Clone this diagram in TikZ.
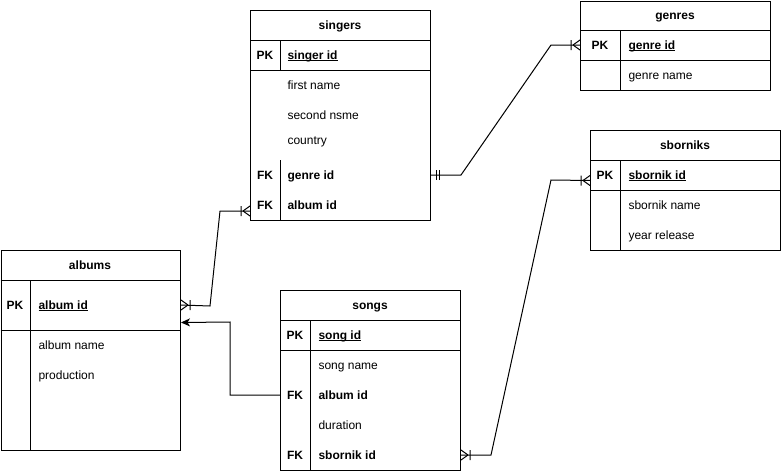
\documentclass[tikz,border=0pt]{standalone}
\usepackage{fontspec}
\setmainfont{Liberation Sans}
\usetikzlibrary{calc,arrows.meta}
\newcommand{\pkul}[1]{\setbox0\hbox{#1}\rlap{\rule[-2.2pt]{\wd0}{0.8pt}}\box0}
\newcommand{\ermany}[2]{%
  \draw[erline] ($(#1)+({#2*(-7)},0)$) -- ($(#1)+(0,-5)$)
                ($(#1)+({#2*(-7)},0)$) -- ($(#1)+(0,5)$)
                ($(#1)+({#2*(-9)},-5)$) -- ($(#1)+({#2*(-9)},5)$);}
\newcommand{\ermone}[2]{%
  \draw[erline] ($(#1)+({#2*(-5)},-5)$) -- ($(#1)+({#2*(-5)},5)$)
                ($(#1)+({#2*(-8)},-5)$) -- ($(#1)+({#2*(-8)},5)$);}
\begin{document}
\begin{tikzpicture}[x=1pt,y=-1pt,line width=1pt,
  erline/.style={line width=1pt},
  txt/.style={inner sep=0pt,text height=10pt,text depth=2pt},
  tbl/.style={draw,rectangle,anchor=north west,inner sep=0pt,line width=1pt},
  ttl/.style={txt,font=\fontsize{12}{14}\selectfont\bfseries},
  keylbl/.style={txt,font=\fontsize{12}{14}\selectfont\bfseries},
  fld/.style={txt,font=\fontsize{12}{14}\selectfont,anchor=west},
  kfld/.style={txt,font=\fontsize{12}{14}\selectfont\bfseries,anchor=west},
  conn/.style={line width=1pt}]
\useasboundingbox (0,0) rectangle (781,471);

% ---------- singers ----------
\node[tbl,minimum width=180pt,minimum height=210pt] (singers) at (250,10) {};
\draw (250,40) -- (430,40) (250,70) -- (430,70) (280,40) -- (280,70) (280,160) -- (280,220);
\node[ttl] (singers-t) at (340,25) {singers};
\node[keylbl] (singers-pkk) at (265,55) {PK};
\node[kfld] (singers-pk) at (287,55) {\pkul{singer id}};
\node[fld] (singers-f1) at (287,85) {first name};
\node[fld] (singers-f2) at (287,115) {second nsme};
\node[fld] (singers-f3) at (287,140) {country};
\node[keylbl] (singers-fk1k) at (265,175) {FK};
\node[kfld] (singers-genre) at (287,175) {genre id};
\node[keylbl] (singers-fk2k) at (265,205) {FK};
\node[kfld] (singers-album) at (287,205) {album id};

% ---------- genres ----------
\node[tbl,minimum width=190pt,minimum height=89.5pt] (genres) at (580,0.5) {};
\draw (580,30) -- (770,30) (580,60) -- (770,60) (620,30) -- (620,90);
\node[ttl] (genres-t) at (675,15) {genres};
\node[keylbl] (genres-pkk) at (600,45) {PK};
\node[kfld] (genres-pk) at (628,45) {\pkul{genre id}};
\node[fld] (genres-f1) at (628,75) {genre name};

% ---------- sborniks ----------
\node[tbl,minimum width=190pt,minimum height=120pt] (sborniks) at (590,130) {};
\draw (590,160) -- (780,160) (590,190) -- (780,190) (620,160) -- (620,250);
\node[ttl] (sborniks-t) at (685,145) {sborniks};
\node[keylbl] (sborniks-pkk) at (605,175) {PK};
\node[kfld] (sborniks-pk) at (628,175) {\pkul{sbornik id}};
\node[fld] (sborniks-f1) at (628,205) {sbornik name};
\node[fld] (sborniks-f2) at (628,235) {year release};

% ---------- albums ----------
\node[tbl,minimum width=179.5pt,minimum height=200pt] (albums) at (0.5,250) {};
\draw (0.5,280) -- (180,280) (0.5,330) -- (180,330) (30,280) -- (30,450);
\node[ttl] (albums-t) at (90,265) {albums};
\node[keylbl] (albums-pkk) at (15,305) {PK};
\node[kfld] (albums-pk) at (38,305) {\pkul{album id}};
\node[fld] (albums-f1) at (38,345) {album name};
\node[fld] (albums-f2) at (38,375) {production};

% ---------- songs ----------
\node[tbl,minimum width=180pt,minimum height=180pt] (songs) at (280,290) {};
\draw (280,320) -- (460,320) (280,350) -- (460,350) (310,320) -- (310,470);
\node[ttl] (songs-t) at (370,305) {songs};
\node[keylbl] (songs-pkk) at (295,335) {PK};
\node[kfld] (songs-pk) at (318,335) {\pkul{song id}};
\node[fld] (songs-f1) at (318,365) {song name};
\node[keylbl] (songs-fk1k) at (295,395) {FK};
\node[kfld] (songs-album) at (318,395) {album id};
\node[fld] (songs-f2) at (318,425) {duration};
\node[keylbl] (songs-fk2k) at (295,455) {FK};
\node[kfld] (songs-sbornik) at (318,455) {sbornik id};

% ---------- connectors ----------
\draw[conn] ($(singers.south west)+(0,-10)$) coordinate (c1a) -- ++(-30,0) -- ++(-10,95)
  -- (albums.east |- albums-pk) coordinate (c1b);
\ermany{c1a}{1}
\ermany{c1b}{-1}

\draw[conn] (singers.east |- singers-genre) coordinate (c2a) -- ++(30,0) -- ++(90,-130)
  -- (genres.west |- genres-pk) coordinate (c2b);
\ermone{c2a}{-1}
\ermany{c2b}{1}

\draw[conn] (songs.east |- songs-sbornik) coordinate (c3a) -- ++(30,0) -- ++(60,-275)
  -- ($(sborniks.west)+(0,-10)$) coordinate (c3b);
\ermany{c3a}{-1}
\ermany{c3b}{1}

\draw[conn,-{Stealth[length=9pt,width=8pt,inset=2.5pt]}] (songs.west |- songs-album) -- ++(-50,0) -- ++(0,-73)
  -- ($(albums.east)+(0,-28)$);
\end{tikzpicture}
\end{document}
